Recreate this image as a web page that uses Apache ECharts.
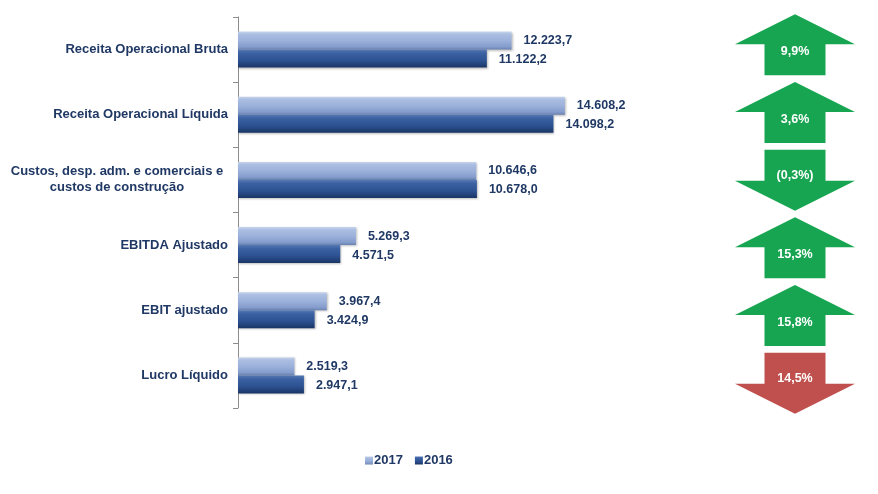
<!DOCTYPE html>
<html>
<head>
<meta charset="utf-8">
<script src="https://cdn.jsdelivr.net/npm/echarts@6/dist/echarts.min.js"></script>
<style>
html,body{margin:0;padding:0;background:#fff;}
#chart{width:878px;height:494px;}
</style>
</head>
<body>
<div id="chart"></div>
<script>
var categories = [
  'Receita Operacional Bruta',
  'Receita Operacional Líquida',
  'Custos, desp. adm. e comerciais e\ncustos de construção',
  'EBITDA Ajustado',
  'EBIT ajustado',
  'Lucro Líquido'
];
var values2017 = [12223.7, 14608.2, 10646.6, 5269.3, 3967.4, 2519.3];
var values2016 = [11122.2, 14098.2, 10678.0, 4571.5, 3424.9, 2947.1];
var changes = [9.9, 3.6, -0.3, 15.3, 15.8, -14.5];
var changeLabels = ['9,9%', '3,6%', '(0,3%)', '15,3%', '15,8%', '14,5%'];
var favourable = [true, true, true, true, true, false];

var navy = '#1f3864';
var font = 'Liberation Sans, Arial, sans-serif';

function fmt(v) {
  var parts = v.toFixed(1).split('.');
  var intPart = parts[0].replace(/\B(?=(\d{3})+(?!\d))/g, '.');
  return intPart + ',' + parts[1];
}

var grad2017 = new echarts.graphic.LinearGradient(0, 0, 0, 1, [
  {offset: 0, color: '#c6d3eb'},
  {offset: 0.15, color: '#abbee2'},
  {offset: 0.5, color: '#9cb1db'},
  {offset: 0.85, color: '#849ccc'},
  {offset: 1, color: '#6780b0'}
]);
var grad2016 = new echarts.graphic.LinearGradient(0, 0, 0, 1, [
  {offset: 0, color: '#5679b4'},
  {offset: 0.2, color: '#3c61a2'},
  {offset: 0.6, color: '#2d5292'},
  {offset: 1, color: '#1a3566'}
]);

var arrowData = changes.map(function (c, i) {
  return [0.5, i, c, changeLabels[i], favourable[i] ? 1 : 0];
});

var chart = echarts.init(document.getElementById('chart'), null, {renderer: 'canvas'});
chart.setOption({
  animation: false,
  backgroundColor: '#ffffff',
  textStyle: {fontFamily: font},
  legend: {
    data: ['2017', '2016'],
    left: 360,
    top: 449,
    itemWidth: 8,
    itemHeight: 8,
    itemGap: 12,
    icon: 'rect',
    textStyle: {color: navy, fontWeight: 'bold', fontSize: 13, fontFamily: font, padding: [0, 0, 0, -4]}
  },
  grid: [
    {left: 238, top: 17, width: 358, height: 391, containLabel: false},
    {left: 730, top: 11, width: 130, height: 406, containLabel: false}
  ],
  xAxis: [
    {type: 'value', gridIndex: 0, min: 0, max: 16000, show: false},
    {type: 'value', gridIndex: 1, min: 0, max: 1, show: false}
  ],
  yAxis: [
    {
      type: 'category', gridIndex: 0, data: categories, inverse: true,
      axisLine: {show: true, lineStyle: {color: '#8c8c8c', width: 1}},
      axisTick: {show: true, inside: false, length: 5, lineStyle: {color: '#8c8c8c'}},
      axisLabel: {
        color: navy, fontWeight: 'bold', fontSize: 13, fontFamily: font, margin: 10,
        formatter: function (v) {
          if (v.indexOf('\n') >= 0) {
            return v.split('\n').map(function (l) { return '{c|' + l + '}'; }).join('\n');
          }
          return v;
        },
        rich: {
          c: {width: 222, align: 'center', color: navy, fontWeight: 'bold', fontSize: 13, fontFamily: font, lineHeight: 16}
        }
      }
    },
    {type: 'category', gridIndex: 1, data: categories, inverse: true, show: false}
  ],
  series: [
    {
      name: '2017', type: 'bar', xAxisIndex: 0, yAxisIndex: 0,
      data: values2017, barWidth: 18, barGap: '0%',
      itemStyle: {color: grad2017, shadowColor: 'rgba(0,0,0,0.25)', shadowBlur: 2, shadowOffsetX: 1, shadowOffsetY: 1},
      label: {
        show: true, position: 'right', distance: 12, offset: [0, 0],
        color: navy, fontWeight: 'bold', fontSize: 12.5, fontFamily: font,
        formatter: function (p) { return fmt(p.value); }
      }
    },
    {
      name: '2016', type: 'bar', xAxisIndex: 0, yAxisIndex: 0,
      data: values2016, barWidth: 18,
      itemStyle: {color: grad2016, shadowColor: 'rgba(0,0,0,0.25)', shadowBlur: 2, shadowOffsetX: 1, shadowOffsetY: 1},
      label: {
        show: true, position: 'right', distance: 12, offset: [0, 1],
        color: navy, fontWeight: 'bold', fontSize: 12.5, fontFamily: font,
        formatter: function (p) { return fmt(p.value); }
      }
    },
    {
      type: 'custom', xAxisIndex: 1, yAxisIndex: 1,
      data: arrowData,
      renderItem: function (params, api) {
        var c = api.coord([api.value(0), api.value(1)]);
        var up = api.value(2) >= 0;
        var good = api.value(4) === 1;
        var cx = c[0], cy = c[1];
        var W = 120, H = 61, headH = 30, shaftW = 61;
        var top = cy - H / 2, bot = cy + H / 2;
        var pts;
        if (up) {
          pts = [[cx, top], [cx + W / 2, top + headH], [cx + shaftW / 2, top + headH],
                 [cx + shaftW / 2, bot], [cx - shaftW / 2, bot], [cx - shaftW / 2, top + headH],
                 [cx - W / 2, top + headH]];
        } else {
          pts = [[cx, bot], [cx + W / 2, bot - headH], [cx + shaftW / 2, bot - headH],
                 [cx + shaftW / 2, top], [cx - shaftW / 2, top], [cx - shaftW / 2, bot - headH],
                 [cx - W / 2, bot - headH]];
        }
        return {
          type: 'group',
          children: [
            {type: 'polygon', shape: {points: pts}, style: {fill: good ? '#18a552' : '#c0504d'}},
            {type: 'text', x: cx, y: up ? cy + 7 : cy - 5,
             style: {text: api.value(3), fill: '#ffffff', font: 'bold 12.5px ' + font, align: 'center', verticalAlign: 'middle'}}
          ]
        };
      }
    }
  ]
});
</script>
</body>
</html>
